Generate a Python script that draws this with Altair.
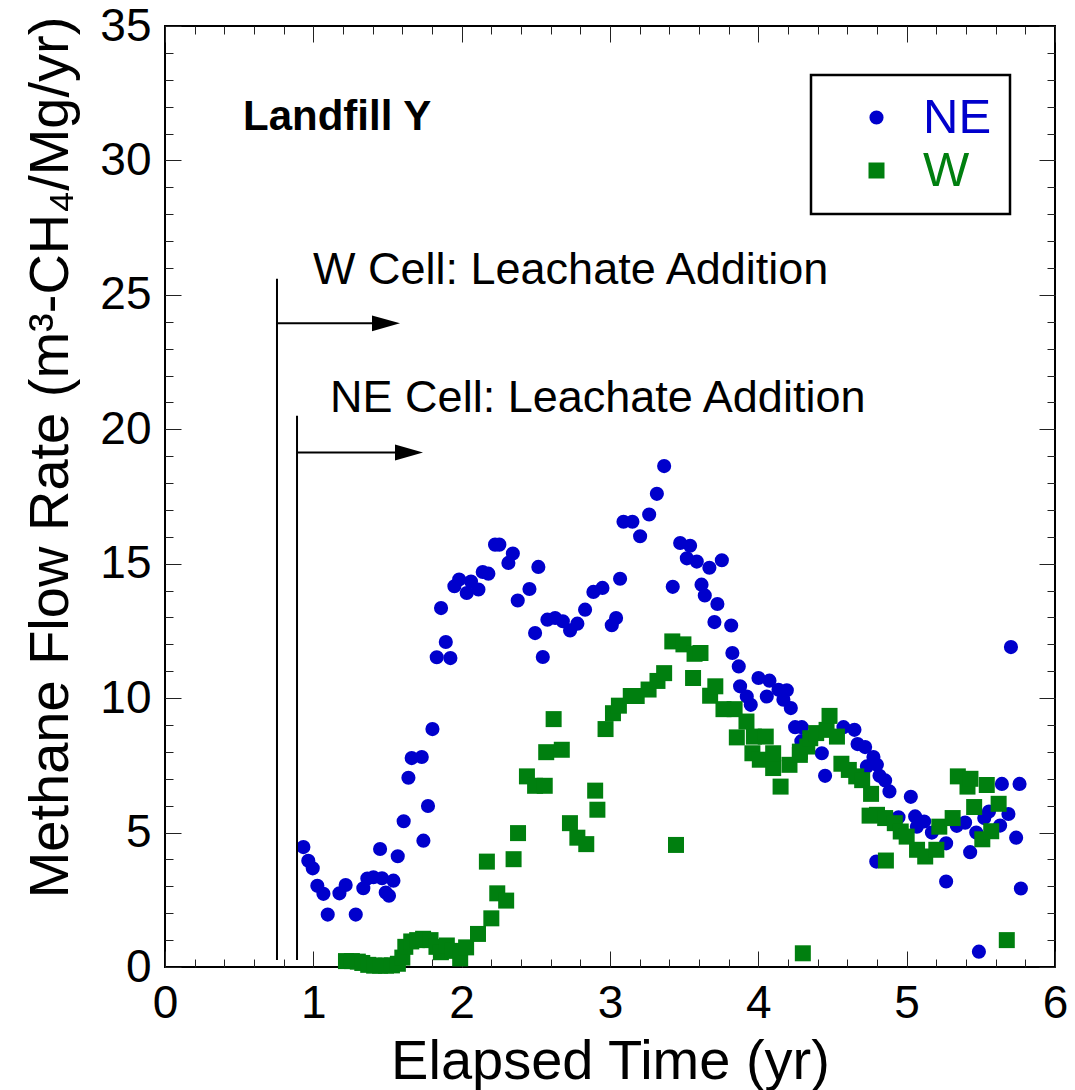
import altair as alt
import pandas as pd

FONT = "Liberation Sans"
BLUE = "#0000CC"
GREEN = "#007F0F"

# ---- data ----
ne_x = [0.933, 0.966, 0.996, 1.027, 1.068, 1.097, 1.176, 1.218, 1.286, 1.337, 1.364, 1.405,
        1.45, 1.463, 1.488, 1.510, 1.540, 1.569, 1.609, 1.641, 1.663, 1.731, 1.742, 1.773,
        1.803, 1.832, 1.861, 1.893, 1.924, 1.951, 1.983, 2.034, 2.063, 2.113, 2.142, 2.180,
        2.225, 2.254, 2.315, 2.345, 2.378, 2.457, 2.495, 2.517, 2.547, 2.578, 2.630, 2.682,
        2.731, 2.780, 2.832, 2.888, 2.949, 3.012, 3.041, 3.068, 3.091, 3.151, 3.203, 3.264,
        3.316, 3.365, 3.423, 3.473, 3.518, 3.540, 3.585, 3.617, 3.639, 3.670, 3.704, 3.724,
        3.754, 3.817, 3.825, 3.868, 3.877, 3.922, 3.949, 4.001, 4.057, 4.075, 4.136, 4.169,
        4.192, 4.219, 4.248, 4.293, 4.29, 4.428, 4.450, 4.574, 4.648, 4.669, 4.72, 4.732,
        4.776, 4.799, 4.795, 4.817, 4.855, 4.884, 4.945, 5.028, 5.057, 5.069, 5.118, 5.17,
        5.266, 5.266, 5.338, 5.394, 5.428, 5.469, 5.487, 5.523, 5.555, 5.630, 5.642, 5.686,
        5.703, 5.738, 5.761, 5.770]
ne_y = [4.46, 3.95, 3.67, 3.02, 2.72, 1.95, 2.74, 3.05, 1.95, 2.93, 3.29, 3.34,
        4.39, 3.30, 2.77, 2.65, 3.21, 4.12, 5.42, 7.04, 7.77, 7.81, 4.70, 5.99,
        8.85, 11.52, 13.35, 12.09, 11.49, 14.16, 14.41, 13.91, 14.34, 14.04, 14.69, 14.63,
        15.71, 15.71, 15.03, 15.38, 13.63, 14.06, 12.42, 14.88, 11.53, 12.92, 12.98, 12.86,
        12.52, 12.77, 13.29, 13.95, 14.10, 12.71, 12.98, 14.44, 16.56, 16.56, 16.02, 16.83,
        17.60, 18.63, 14.14, 15.77, 15.20, 15.67, 15.08, 14.22, 13.82, 14.85, 12.83, 13.50,
        15.13, 12.70, 11.68, 11.18, 10.44, 10.06, 9.75, 10.75, 10.06, 10.65, 10.31, 9.94,
        10.29, 9.63, 8.92, 8.92, 8.40, 7.95, 7.11, 8.92, 8.82, 8.29, 8.18, 7.46,
        7.81, 7.52, 3.92, 7.11, 6.94, 6.53, 5.57, 6.33, 5.60, 5.22, 5.41, 5.00,
        4.60, 3.18, 5.25, 5.37, 4.27, 5.00, 0.57, 5.54, 5.78, 5.26, 6.81, 5.69,
        11.90, 4.81, 6.81, 2.92]

w_x = [1.22, 1.26, 1.30, 1.33, 1.37, 1.41, 1.45, 1.49, 1.53, 1.57, 1.60, 1.62,
       1.66, 1.70, 1.74, 1.79, 1.83, 1.86, 1.90, 1.94, 1.99, 2.03, 2.11, 2.17,
       2.20, 2.24, 2.30, 2.35, 2.38, 2.44, 2.495, 2.56, 2.57, 2.62, 2.675, 2.73,
       2.78, 2.84, 2.90, 2.915, 2.97, 3.02, 3.06, 3.14, 3.18, 3.26, 3.32, 3.365,
       3.42, 3.445, 3.495, 3.56, 3.57, 3.61, 3.675, 3.71, 3.765, 3.84, 3.855, 3.92,
       3.96, 3.97, 4.01, 4.05, 4.10, 4.10, 4.15, 4.21, 4.28, 4.28, 4.30, 4.33,
       4.35, 4.39, 4.46, 4.48, 4.53, 4.56, 4.61, 4.66, 4.70, 4.76, 4.75, 4.80,
       4.855, 4.86, 4.92, 4.96, 5.00, 5.07, 5.125, 5.20, 5.22, 5.31, 5.345, 5.41,
       5.43, 5.455, 5.51, 5.54, 5.57, 5.62, 5.675]
w_y = [0.22, 0.22, 0.20, 0.15, 0.08, 0.05, 0.05, 0.05, 0.06, 0.12, 0.35, 0.75,
       0.95, 1.00, 1.05, 1.00, 0.75, 0.55, 0.80, 0.60, 0.32, 0.73, 1.23, 3.92,
       1.81, 2.74, 2.47, 4.01, 4.98, 7.09, 6.74, 6.74, 7.99, 9.22, 8.08, 5.35,
       4.81, 4.57, 6.56, 5.85, 8.85, 9.44, 9.72, 10.08, 10.08, 10.32, 10.64, 10.93,
       12.11, 4.54, 12.00, 10.75, 11.65, 11.68, 10.09, 10.44, 9.59, 9.59, 8.54, 9.13,
       7.95, 8.57, 7.71, 8.57, 7.40, 7.95, 6.71, 7.52, 7.89, 8.01, 0.51, 8.20,
       8.51, 8.70, 8.82, 9.34, 8.57, 7.56, 7.33, 7.09, 6.95, 6.44, 5.63, 5.66,
       5.54, 3.96, 5.35, 5.04, 4.85, 4.36, 4.11, 4.36, 5.22, 5.54, 7.09, 6.71,
       7.00, 5.95, 4.75, 6.77, 5.05, 6.07, 1.00]

series_names = ["NE", "W"]

x_major = [0, 1, 2, 3, 4, 5, 6]
x_minor = [0, 0.2, 0.4, 0.6, 0.8, 1, 1.2, 1.4, 1.6, 1.8, 2, 2.2, 2.4, 2.6, 2.8, 3,
           3.2, 3.4, 3.6, 3.8, 4, 4.2, 4.4, 4.6, 4.8, 5, 5.2, 5.4, 5.6, 5.8, 6]
y_major = [0, 5, 10, 15, 20, 25, 30, 35]
y_minor = [0, 1, 2, 3, 4, 5, 6, 7, 8, 9, 10, 11, 12, 13, 14, 15, 16, 17, 18, 19, 20,
           21, 22, 23, 24, 25, 26, 27, 28, 29, 30, 31, 32, 33, 34, 35]

# annotations (data coordinates)
vline_x = [0.755, 0.89]
vline_y0 = [0.26, 0.26]
vline_y1 = [25.6, 20.5]
arrow_x1 = [1.49, 1.645]
arrow_y = [23.94, 19.14]
note_x = [0.998, 1.113]
note_y = [25.40, 20.65]
note_text = ["W Cell: Leachate Addition", "NE Cell: Leachate Addition"]
panel_x = [0.526]
panel_y = [31.15]
panel_text = ["Landfill Y"]

# ---- tables ----
pts = pd.DataFrame({
    "t": ne_x + w_x,
    "rate": ne_y + w_y,
    "series": ["NE"] * len(ne_x) + ["W"] * len(w_x),
})
vlines = pd.DataFrame({"x": vline_x, "y0": vline_y0, "y1": vline_y1})
arrows = pd.DataFrame({"x0": vline_x, "x1": arrow_x1, "y": arrow_y})
notes = pd.DataFrame({"x": note_x, "y": note_y, "label": note_text})
panel = pd.DataFrame({"x": panel_x, "y": panel_y, "label": panel_text})

xs = alt.Scale(domain=[0, 6], nice=False, zero=False)
ys = alt.Scale(domain=[0, 35], nice=False, zero=False)


def tick_axis(orient, values, size):
    return alt.Axis(orient=orient, values=values, tickSize=size, offset=-size,
                    labels=False, domain=False, grid=False, ticks=True,
                    tickColor="#222222", tickWidth=1)


main_x = alt.Axis(orient="bottom", values=x_major, format="d", ticks=False, tickSize=0,
                  domain=False, grid=False, labelFontSize=46, labelPadding=14,
                  labelFlush=False, titleFontSize=56, titlePadding=8)
main_y = alt.Axis(orient="left", values=y_major, format="d", ticks=False, tickSize=0,
                  domain=False, grid=False, labelFontSize=46, labelPadding=14,
                  labelFlush=False, titleFontSize=56, titlePadding=20, titleY=431)

legend = alt.Legend(
    title=None, orient="none", legendX=646, legendY=49, direction="vertical",
    labelFontSize=49, labelFont=FONT,
    labelColor=alt.ExprRef(expr="datum.label == 'NE' ? '#0000CC' : '#007F0F'"),
    strokeColor="black", padding=18, rowPadding=3, symbolOffset=23, labelOffset=22,
    symbolStrokeWidth=0,
)

points = alt.Chart(pts).mark_point(filled=True, opacity=1).encode(
    x=alt.X("t:Q", scale=xs, axis=main_x, title="Elapsed Time (yr)"),
    y=alt.Y("rate:Q", scale=ys, axis=main_y, title="Methane Flow Rate (m³-CH₄/Mg/yr)"),
    color=alt.Color("series:N", scale=alt.Scale(domain=series_names, range=[BLUE, GREEN]),
                    legend=legend),
    shape=alt.Shape("series:N", scale=alt.Scale(domain=series_names, range=["circle", "square"])),
    size=alt.Size("series:N", scale=alt.Scale(domain=series_names, range=[200, 256])),
)

rules = alt.Chart(vlines).mark_rule(color="black", strokeWidth=2).encode(
    x=alt.X("x:Q", scale=xs, axis=tick_axis("bottom", x_major, 16), title=None),
    y=alt.Y("y0:Q", scale=ys, axis=tick_axis("left", y_major, 16), title=None),
    y2="y1:Q",
)

alines = alt.Chart(arrows).mark_rule(color="black", strokeWidth=2).encode(
    x=alt.X("x0:Q", scale=xs, axis=tick_axis("bottom", x_minor, 8), title=None),
    x2="x1:Q",
    y=alt.Y("y:Q", scale=ys, axis=tick_axis("left", y_minor, 8), title=None),
)

heads = alt.Chart(arrows).mark_point(
    shape="M-1,-0.57L1,0L-1,0.57Z", filled=True, size=784, color="black", opacity=1
).encode(
    x=alt.X("x1:Q", scale=xs, axis=tick_axis("top", x_major, 16), title=None),
    y=alt.Y("y:Q", scale=ys, axis=tick_axis("right", y_major, 16), title=None),
)

texts = alt.Chart(notes).mark_text(
    align="left", baseline="alphabetic", fontSize=45, font=FONT, color="black"
).encode(
    x=alt.X("x:Q", scale=xs, axis=tick_axis("top", x_minor, 8), title=None),
    y=alt.Y("y:Q", scale=ys, axis=tick_axis("right", y_minor, 8), title=None),
    text="label:N",
)

ptext = alt.Chart(panel).mark_text(
    align="left", baseline="alphabetic", fontSize=42, font=FONT, fontWeight="bold", color="black"
).encode(
    x=alt.X("x:Q", scale=xs, axis=None),
    y=alt.Y("y:Q", scale=ys, axis=None),
    text="label:N",
)

chart = alt.layer(points, rules, alines, heads, texts, ptext).resolve_axis(
    x="independent", y="independent"
).properties(
    width=890, height=941,
    padding={"left": 165, "top": 26, "right": 20, "bottom": 123},
    autosize=alt.AutoSizeParams(type="none"),
    background="white",
).configure_view(
    stroke="black", strokeWidth=2
).configure_axis(
    labelFont=FONT, titleFont=FONT, labelColor="black", titleColor="black",
    titleFontWeight="normal"
).configure_legend(
    strokeWidth=2.5
)

chart.save("out.html", embed_options={"renderer": "svg", "actions": False})
